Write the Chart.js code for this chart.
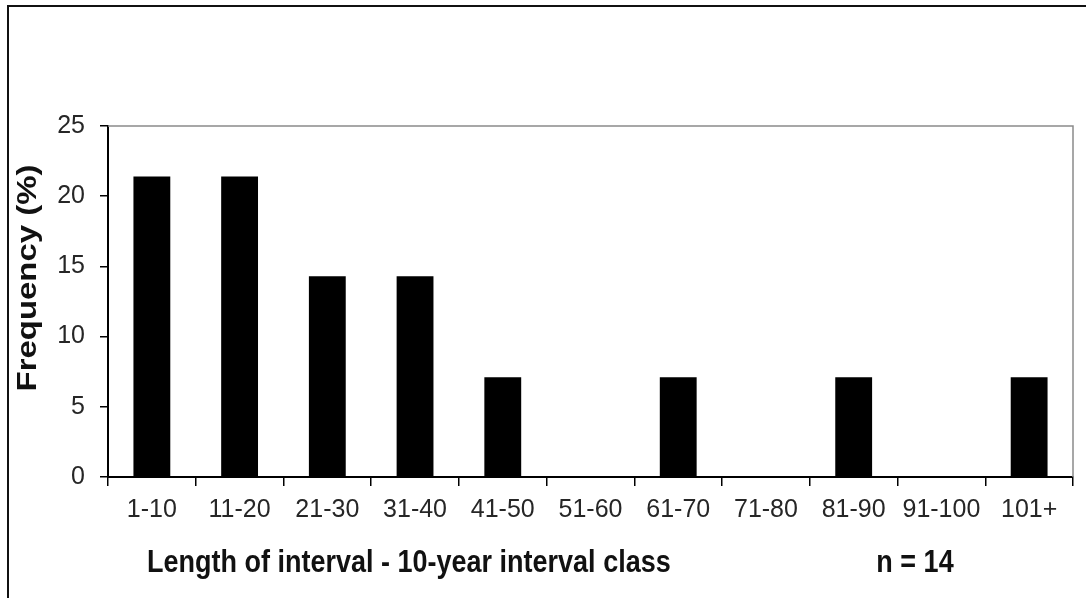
<!DOCTYPE html>
<html>
<head>
<meta charset="utf-8">
<script src="https://cdn.jsdelivr.net/npm/chart.js@4"></script>
<style>
  html, body { margin: 0; padding: 0; background: #fff; }
  #wrap { width: 1086px; height: 598px; }
</style>
</head>
<body>
<div id="wrap"><canvas id="histChart" width="1086" height="598"></canvas></div>
<script>
// interval classes and their share of the 14 intervals
const categories = ['1-10', '11-20', '21-30', '31-40', '41-50', '51-60', '61-70', '71-80', '81-90', '91-100', '101+'];
const frequency = [21.4, 21.4, 14.3, 14.3, 7.1, 0, 7.1, 0, 7.1, 0, 7.1];
const yTicks = [0, 5, 10, 15, 20, 25];
const xTitle = 'Length of interval - 10-year interval class';
const yTitle = 'Frequency (%)';
const sampleNote = 'n = 14';

// draws frame, titles and the n note (text is a bit taller than wide in the original)
const extras = {
    id: 'extras',
    afterDraw(chart) {
        const ctx = chart.ctx;
        const a = chart.chartArea;
        ctx.save();

        // outer border, only left and top visible
        ctx.strokeStyle = '#111';
        ctx.lineWidth = 2;
        ctx.beginPath();
        ctx.moveTo(8, 600);
        ctx.lineTo(8, 6);
        ctx.lineTo(1090, 6);
        ctx.stroke();

        // grey plot frame top + right
        ctx.strokeStyle = '#8a8a8a';
        ctx.lineWidth = 1.5;
        ctx.beginPath();
        ctx.moveTo(a.left, a.top);
        ctx.lineTo(a.right, a.top);
        ctx.lineTo(a.right, a.bottom);
        ctx.stroke();

        ctx.fillStyle = '#111';
        ctx.font = 'bold 27px "Liberation Sans", Arial, sans-serif';
        ctx.textBaseline = 'alphabetic';

        ctx.save();
        ctx.translate(147, 572);
        ctx.scale(1, 1.15);
        ctx.textAlign = 'left';
        ctx.fillText(xTitle, 0, 0);
        ctx.restore();

        ctx.save();
        ctx.translate(915, 572);
        ctx.scale(1, 1.15);
        ctx.textAlign = 'center';
        ctx.fillText(sampleNote, 0, 0);
        ctx.restore();

        ctx.save();
        ctx.translate(29, 278);
        ctx.rotate(-Math.PI / 2);
        ctx.scale(1.22, 1);
        ctx.textAlign = 'center';
        ctx.textBaseline = 'middle';
        ctx.fillText(yTitle, 0, 0);
        ctx.restore();

        ctx.restore();
    }
};

const ctx = document.getElementById('histChart').getContext('2d');
new Chart(ctx, {
    type: 'bar',
    data: {
        labels: categories,
        datasets: [{
            data: frequency,
            backgroundColor: '#000',
            borderWidth: 0,
            barPercentage: 0.42,
            categoryPercentage: 1
        }]
    },
    options: {
        responsive: false,
        animation: false,
        events: [],
        layout: { padding: { left: 0, top: 126, right: 13, bottom: 0 } },
        plugins: {
            legend: { display: false },
            tooltip: { enabled: false },
            title: { display: false }
        },
        scales: {
            x: {
                grid: {
                    display: true,
                    offset: true,
                    drawOnChartArea: false,
                    drawTicks: true,
                    tickLength: 9,
                    color: '#000',
                    lineWidth: 1.5
                },
                border: { display: true, color: '#000', width: 2 },
                ticks: {
                    color: '#262626',
                    padding: 9,
                    maxRotation: 0,
                    autoSkip: false,
                    font: { family: '"Liberation Sans", Arial, sans-serif', size: 25 }
                },
                afterFit(scale) { scale.height = 121; }
            },
            y: {
                min: 0,
                max: 25,
                afterBuildTicks(scale) { scale.ticks = yTicks.map(v => ({ value: v })); },
                grid: {
                    display: true,
                    drawOnChartArea: false,
                    drawTicks: true,
                    tickLength: 8,
                    color: '#000',
                    lineWidth: 1.5
                },
                border: { display: true, color: '#000', width: 2 },
                ticks: {
                    color: '#262626',
                    padding: 15,
                    font: { family: '"Liberation Sans", Arial, sans-serif', size: 25 }
                },
                afterFit(scale) { scale.width = 108; }
            }
        }
    },
    plugins: [extras]
});
</script>
</body>
</html>
